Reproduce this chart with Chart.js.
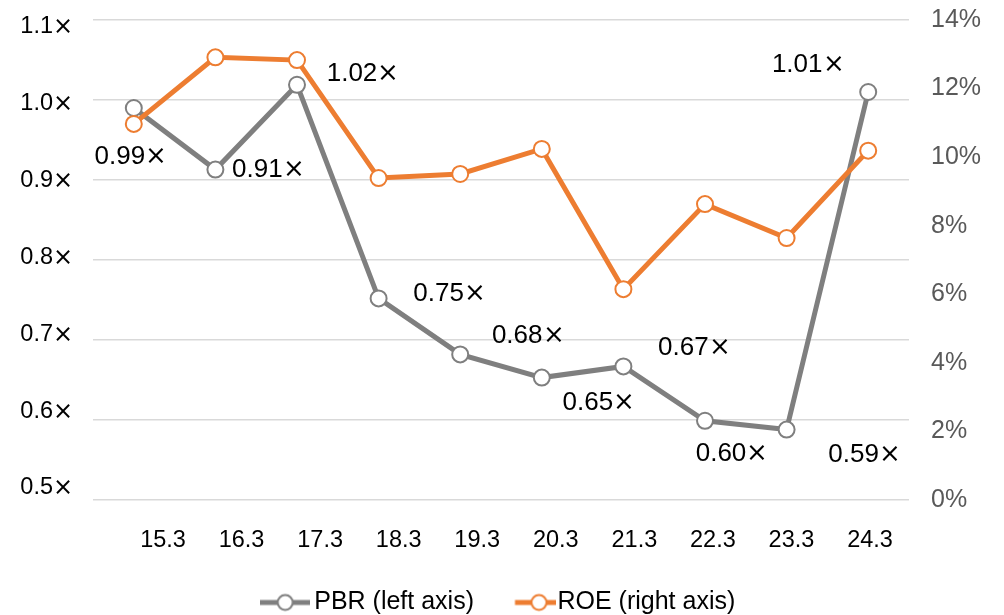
<!DOCTYPE html>
<html>
<head>
<meta charset="utf-8">
<script src="https://cdn.jsdelivr.net/npm/chart.js@4/dist/chart.umd.min.js"></script>
<style>
  /* only the multiplication sign comes from DejaVu, everything else Liberation Sans */
  @font-face {
    font-family: "TimesSign";
    src: local("DejaVu Sans"), local("DejaVuSans");
    unicode-range: U+00D7;
  }
  html, body { margin: 0; padding: 0; background: #fff; }
  #wrap { width: 1004px; height: 615px; }
</style>
</head>
<body>
<div id="wrap"><canvas id="chart"></canvas></div>
<script>
// periods (fiscal year-end, yy.m)
const periods = ["15.3", "16.3", "17.3", "18.3", "19.3", "20.3", "21.3", "22.3", "23.3", "24.3"];
// PBR (times), left axis
const pbr = [0.99, 0.913, 1.019, 0.752, 0.682, 0.653, 0.667, 0.599, 0.588, 1.01];
// ROE (%), right axis
const roe = [10.97, 12.91, 12.83, 9.39, 9.51, 10.24, 6.15, 8.63, 7.64, 10.19];
// axis tick values
const pbrTicks = [0.5, 0.6, 0.7, 0.8, 0.9, 1.0, 1.1];
const roeTicks = [0, 2, 4, 6, 8, 10, 12, 14];

// where each PBR value label sits relative to its point (px)
const labelOffsets = [[-3, 49], [53, 0], [66, -11], [71, -5], [68, -19],
                      [57, 25], [71, -19], [27, 33], [78, 25], [-60, -27]];

const GRAY = "#7f7f7f";
const ORANGE = "#ed7d31";
const FONT = '"TimesSign", "Liberation Sans", Arial, Helvetica, sans-serif';

// legend icon: line with an open circle
function legendIcon(color, w, lineFrom, cx) {
    const c = document.createElement("canvas");
    c.width = w;
    c.height = 20;
    const g = c.getContext("2d");
    g.strokeStyle = color;
    g.lineWidth = 5;
    g.beginPath();
    g.moveTo(lineFrom, 10);
    g.lineTo(w, 10);
    g.stroke();
    g.beginPath();
    g.arc(cx, 10, 7.5, 0, Math.PI * 2);
    g.fillStyle = "#fff";
    g.fill();
    g.lineWidth = 2;
    g.stroke();
    return c;
}
const icons = [legendIcon(GRAY, 50, 0, 25), legendIcon(ORANGE, 56, 14.5, 38.5)];

const pointLabels = {
    id: "pointLabels",
    afterDatasetsDraw(chart) {
        const meta = chart.getDatasetMeta(0);
        const ctx = chart.ctx;
        ctx.save();
        ctx.font = "26px " + FONT;
        ctx.fillStyle = "#000";
        ctx.textAlign = "center";
        ctx.textBaseline = "middle";
        meta.data.forEach((pt, i) => {
            const [dx, dy] = labelOffsets[i];
            ctx.fillText(pbr[i].toFixed(2) + "\u00d7", pt.x + dx, pt.y + dy);
        });
        ctx.restore();
    }
};

// legend row a bit lower, and let the period labels draw below their box
const nudge = {
    id: "nudge",
    afterLayout(chart) {
        chart.legend.top += 10;
        chart.legend.bottom += 10;
        chart.scales.xLab.bottom += 25;
    }
};

const noPad = s => { s.paddingTop = 0; s.paddingBottom = 0; };

function draw() {
    Chart.defaults.font.family = FONT;
    Chart.defaults.color = "#000";

    const ctx = document.getElementById("chart").getContext("2d");
    new Chart(ctx, {
        type: "line",
        data: {
            labels: periods,
            datasets: [{
                label: "PBR (left axis)",
                data: pbr,
                yAxisID: "y",
                borderColor: GRAY,
                borderWidth: 5,
                pointRadius: 8,
                pointBorderWidth: 2,
                pointBackgroundColor: "#fff",
                pointBorderColor: GRAY,
                tension: 0,
                order: 1
            }, {
                label: "ROE (right axis)",
                data: roe,
                yAxisID: "y2",
                borderColor: ORANGE,
                borderWidth: 5,
                pointRadius: 8,
                pointBorderWidth: 2,
                pointBackgroundColor: "#fff",
                pointBorderColor: ORANGE,
                tension: 0,
                order: 0
            }]
        },
        options: {
            responsive: true,
            maintainAspectRatio: false,
            animation: false,
            layout: { padding: { top: 20, left: 0, right: 0, bottom: 0 } },
            scales: {
                x: {
                    type: "category",
                    display: false,
                    offset: true
                },
                xLab: {
                    type: "linear",
                    position: "bottom",
                    min: -0.891,
                    max: 9.496,
                    afterBuildTicks: s => { s.ticks = periods.map((_, i) => ({ value: i })); },
                    ticks: {
                        callback: v => periods[v],
                        autoSkip: false,
                        maxRotation: 0,
                        padding: 26,
                        color: "#000",
                        font: { size: 23.5 }
                    },
                    grid: { display: false, drawTicks: false },
                    border: { display: false },
                    afterFit: s => { s.height = 42; s.paddingLeft = 0; s.paddingRight = 0; }
                },
                y: {
                    type: "linear",
                    position: "left",
                    min: 0.5,
                    max: 1.1,
                    afterBuildTicks: s => { s.ticks = pbrTicks.map(v => ({ value: v })); },
                    ticks: { display: false },
                    grid: { color: "#d9d9d9", lineWidth: 1.5, drawTicks: false },
                    border: { display: false },
                    afterFit: s => { s.width = 0; noPad(s); }
                },
                yLab: {
                    type: "linear",
                    position: "left",
                    min: 0.4844,
                    max: 1.1091,
                    afterBuildTicks: s => { s.ticks = pbrTicks.map(v => ({ value: v })); },
                    ticks: {
                        callback: v => v.toFixed(1) + "\u00d7",
                        padding: 20,
                        color: "#000",
                        font: { size: 23.5 }
                    },
                    grid: { display: false, drawTicks: false },
                    border: { display: false },
                    afterFit: s => { s.width = 93; noPad(s); }
                },
                y2: {
                    type: "linear",
                    position: "right",
                    min: 0,
                    max: 14,
                    afterBuildTicks: s => { s.ticks = roeTicks.map(v => ({ value: v })); },
                    ticks: {
                        callback: v => v + "%",
                        padding: 22,
                        color: "#595959",
                        font: { size: 25 }
                    },
                    grid: { display: false, drawTicks: false },
                    border: { display: false },
                    afterFit: s => { s.width = 95; noPad(s); }
                }
            },
            plugins: {
                tooltip: { enabled: false },
                legend: {
                    position: "bottom",
                    labels: {
                        usePointStyle: true,
                        pointStyleWidth: 33,
                        padding: 38,
                        color: "#000",
                        font: { size: 25 },
                        generateLabels: chart => chart.data.datasets.map((ds, i) => ({
                            text: ds.label,
                            pointStyle: icons[i],
                            fillStyle: "#fff",
                            strokeStyle: ds.borderColor,
                            lineWidth: 0,
                            hidden: false,
                            datasetIndex: i
                        }))
                    }
                }
            }
        },
        plugins: [pointLabels, nudge]
    });
}

document.fonts.load('22px "TimesSign"', "\u00d7").then(draw, draw);
</script>
</body>
</html>
